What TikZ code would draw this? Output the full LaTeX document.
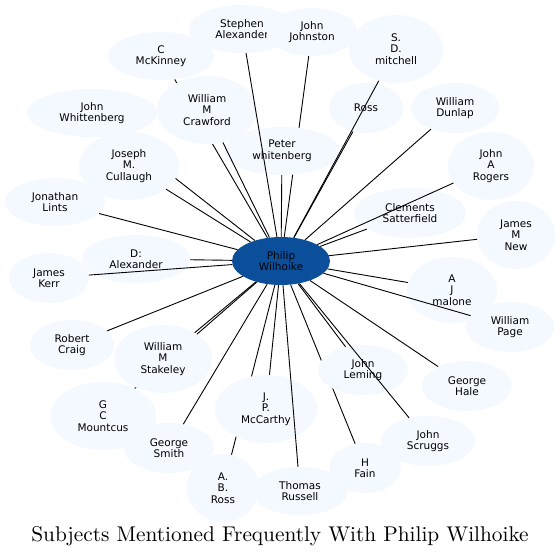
\documentclass[tikz,border=0pt]{standalone}
\usepackage{fontspec}
\newfontfamily\labelfont{DejaVu Sans}
\usetikzlibrary{shapes.geometric,backgrounds}

\begin{document}
\begin{tikzpicture}[x=1pt, y=-1pt,
  subject/.style={ellipse, fill=paleblue, inner sep=0pt, align=center,
    font=\labelfont\fontsize{10.5}{11.5}\selectfont},
  hub/.style={subject, fill=hubblue},
  link/.style={line width=0.9pt}]

\def\titlesize{2.13}
\definecolor{paleblue}{RGB}{244,248,255}
\definecolor{hubblue}{RGB}{11,79,154}
\useasboundingbox (0,0) rectangle (560,557);

% the person in the middle
\node[hub, minimum width=98, minimum height=48] (wilhoike) at (281,261) {Philip\\Wilhoike};

% people around him
\node[subject, minimum width=106, minimum height=48] (stephen) at (242,29) {Stephen\\Alexander};
\node[subject, minimum width=90, minimum height=48] (johnston) at (312,32) {John\\Johnston};
\node[subject, minimum width=106, minimum height=48] (mckinney) at (161,56) {C\\McKinney};
\node[subject, minimum width=94, minimum height=68] (mitchell) at (396,49) {S.\\D.\\mitchell};
\node[subject, minimum width=100, minimum height=68] (crawford) at (207,110) {William\\M\\Crawford};
\node[subject, minimum width=130, minimum height=48] (whittenberg) at (92,113) {John\\Whittenberg};
\node[subject, minimum width=74, minimum height=50] (ross) at (366,108) {Ross};
\node[subject, minimum width=88, minimum height=50] (dunlap) at (455,108) {William\\Dunlap};
\node[subject, minimum width=116, minimum height=48] (peter) at (282,151) {Peter\\whitenberg};
\node[subject, minimum width=100, minimum height=68] (cullaugh) at (129,166) {Joseph\\M.\\Cullaugh};
\node[subject, minimum width=86, minimum height=68] (rogers) at (491,166) {John\\A\\Rogers};
\node[subject, minimum width=100, minimum height=48] (lints) at (55,202) {Jonathan\\Lints};
\node[subject, minimum width=112, minimum height=50] (satterfield) at (410,213) {Clements\\Satterfield};
\node[subject, minimum width=78, minimum height=68] (new) at (516,235) {James\\M\\New};
\node[subject, minimum width=108, minimum height=48] (dalexander) at (136,259) {D:\\Alexander};
\node[subject, minimum width=80, minimum height=50] (kerr) at (49,278) {James\\Kerr};
\node[subject, minimum width=90, minimum height=66] (malone) at (452,290) {A\\J\\malone};
\node[subject, minimum width=88, minimum height=50] (page) at (510,327) {William\\Page};
\node[subject, minimum width=84, minimum height=50] (craig) at (72,345) {Robert\\Craig};
\node[subject, minimum width=98, minimum height=68] (stakeley) at (163,359) {William\\M\\Stakeley};
\node[subject, minimum width=90, minimum height=50] (leming) at (363,370) {John\\Leming};
\node[subject, minimum width=90, minimum height=50] (hale) at (467,386) {George\\Hale};
\node[subject, minimum width=106, minimum height=68] (mountcus) at (103,416) {G\\C\\Mountcus};
\node[subject, minimum width=102, minimum height=68] (mccarthy) at (266,409) {J.\\P.\\McCarthy};
\node[subject, minimum width=94, minimum height=50] (scruggs) at (428,441) {John\\Scruggs};
\node[subject, minimum width=90, minimum height=50] (smith) at (169,448) {George\\Smith};
\node[subject, minimum width=72, minimum height=50] (fain) at (365,468) {H\\Fain};
\node[subject, minimum width=72, minimum height=68] (abross) at (223,488) {A.\\B.\\Ross};
\node[subject, minimum width=96, minimum height=48] (russell) at (300,491) {Thomas\\Russell};

% links that run under other people
\begin{scope}[on background layer]
\draw[link] (wilhoike) -- (johnston);
\draw[link] (wilhoike) -- (mckinney);
\draw[link] (wilhoike) -- (whittenberg);
\draw[link] (wilhoike) -- (mountcus);
\draw[link] (wilhoike) -- (abross);
\draw[link] (wilhoike) -- (fain);
\end{scope}

% the other links
\draw[link] (wilhoike) -- (stephen);
\draw[link] (wilhoike) -- (mitchell);
\draw[link] (wilhoike) -- (crawford);
\draw[link] (wilhoike) -- (ross);
\draw[link] (wilhoike) -- (dunlap);
\draw[link] (wilhoike) -- (peter);
\draw[link] (wilhoike) -- (cullaugh);
\draw[link] (wilhoike) -- (rogers);
\draw[link] (wilhoike) -- (lints);
\draw[link] (wilhoike) -- (satterfield);
\draw[link] (wilhoike) -- (new);
\draw[link] (wilhoike) -- (dalexander);
\draw[link] (wilhoike) -- (kerr);
\draw[link] (wilhoike) -- (malone);
\draw[link] (wilhoike) -- (page);
\draw[link] (wilhoike) -- (craig);
\draw[link] (wilhoike) -- (stakeley);
\draw[link] (wilhoike) -- (leming);
\draw[link] (wilhoike) -- (hale);
\draw[link] (wilhoike) -- (mccarthy);
\draw[link] (wilhoike) -- (scruggs);
\draw[link] (wilhoike) -- (smith);
\draw[link] (wilhoike) -- (russell);

\node[anchor=base, scale=\titlesize, font=\fontsize{10}{12}\selectfont] (title) at (280,541) {Subjects Mentioned Frequently With Philip Wilhoike};

\end{tikzpicture}
\end{document}
